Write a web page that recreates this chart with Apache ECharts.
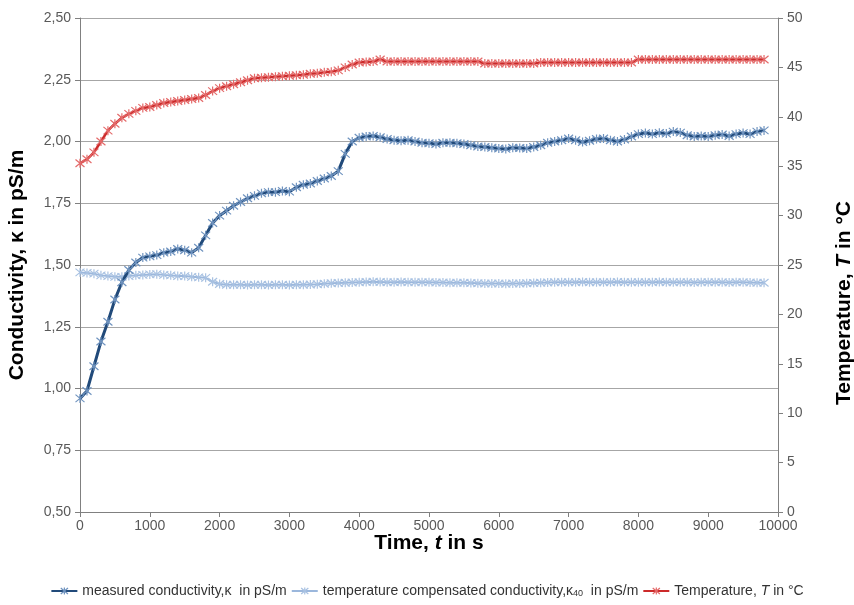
<!DOCTYPE html>
<html>
<head>
<meta charset="utf-8">
<script src="https://cdn.jsdelivr.net/npm/echarts@6/dist/echarts.min.js"></script>
<style>
  html, body { margin: 0; padding: 0; background: #fff; }
  #chart { width: 854px; height: 605px; }
</style>
</head>
<body>
<div id="chart"></div>
<script>
// Sampling times in seconds (every 100 s)
const times = [];
for (let i = 0; i <= 98; i++) times.push(i * 100);

// Measured conductivity, kappa in pS/m
const measuredKappa = [
  0.96, 0.99, 1.09, 1.19, 1.27, 1.36, 1.43, 1.48, 1.51, 1.53,
  1.535, 1.54, 1.55, 1.555, 1.565, 1.56, 1.55, 1.57, 1.62, 1.67,
  1.70, 1.72, 1.74, 1.755, 1.77, 1.78, 1.79, 1.795, 1.795, 1.80,
  1.797, 1.815, 1.825, 1.83, 1.84, 1.85, 1.86, 1.88, 1.95, 2.00,
  2.015, 2.02, 2.022, 2.017, 2.01, 2.005, 2.003, 2.005, 2.00, 1.995,
  1.993, 1.99, 1.995, 1.995, 1.993, 1.99, 1.985, 1.98, 1.978, 1.975,
  1.972, 1.97, 1.975, 1.974, 1.972, 1.978, 1.985, 1.995, 2.00, 2.005,
  2.012, 2.005, 1.998, 2.003, 2.01, 2.012, 2.005, 2.00, 2.008, 2.02,
  2.03, 2.034, 2.03, 2.035, 2.032, 2.04, 2.036, 2.025, 2.02, 2.022,
  2.02, 2.025, 2.028, 2.022, 2.03, 2.034, 2.03, 2.04, 2.045
];

// Temperature compensated conductivity, kappa40 in pS/m
const compensatedKappa = [
  1.47, 1.468, 1.465, 1.458, 1.455, 1.452, 1.452, 1.455, 1.458, 1.46,
  1.462, 1.463, 1.46, 1.458, 1.455, 1.455, 1.452, 1.45, 1.448, 1.432,
  1.423, 1.42, 1.42, 1.42, 1.419, 1.42, 1.42, 1.419, 1.42, 1.42,
  1.419, 1.42, 1.42, 1.421, 1.422, 1.424, 1.426, 1.427, 1.428, 1.429,
  1.43, 1.431, 1.432, 1.431, 1.43, 1.43, 1.431, 1.43, 1.43, 1.43,
  1.43, 1.429, 1.429, 1.428, 1.428, 1.428, 1.427, 1.426, 1.425, 1.425,
  1.425, 1.424, 1.425, 1.425, 1.426, 1.427, 1.428, 1.429, 1.43, 1.43,
  1.43, 1.43, 1.431, 1.43, 1.43, 1.43, 1.43, 1.431, 1.43, 1.43,
  1.43, 1.43, 1.43, 1.431, 1.43, 1.43, 1.43, 1.43, 1.429, 1.43,
  1.43, 1.43, 1.43, 1.429, 1.43, 1.43, 1.429, 1.428, 1.428
];

// Temperature, T in degrees C
const temperature = [
  35.3, 35.7, 36.4, 37.5, 38.6, 39.3, 39.9, 40.3, 40.6, 40.9,
  41.0, 41.2, 41.4, 41.5, 41.6, 41.7, 41.8, 41.9, 42.2, 42.6,
  42.9, 43.1, 43.3, 43.5, 43.7, 43.9, 43.95, 44.0, 44.05, 44.1,
  44.15, 44.2, 44.25, 44.35, 44.4, 44.5, 44.55, 44.7, 45.0, 45.3,
  45.5, 45.55, 45.6, 45.8, 45.6, 45.6, 45.6, 45.6, 45.6, 45.6,
  45.6, 45.6, 45.6, 45.6, 45.6, 45.6, 45.6, 45.6, 45.4, 45.4,
  45.4, 45.4, 45.4, 45.4, 45.4, 45.4, 45.5, 45.5, 45.5, 45.5,
  45.5, 45.5, 45.5, 45.5, 45.5, 45.5, 45.5, 45.5, 45.5, 45.5,
  45.8, 45.8, 45.8, 45.8, 45.8, 45.8, 45.8, 45.8, 45.8, 45.8,
  45.8, 45.8, 45.8, 45.8, 45.8, 45.8, 45.8, 45.8, 45.8
];

const pairs = (vals) => times.map((t, i) => [t, vals[i]]);

// Asterisk marker drawn as open strokes
const starSymbol = 'path://M0,0L10,10M10,0L0,10M5,-1L5,11';
const font = '"Liberation Sans", Arial, sans-serif';
const narrow = '"Liberation Sans Narrow", "Arial Narrow", "Liberation Sans", sans-serif';

// Series colours: line colour and lighter marker colour
const colMeasured = { line: '#214a7a', mark: '#6f93bf' };
const colCompensated = { line: '#9bb7dc', mark: '#a9c2e2' };
const colTemperature = { line: '#cc2a2a', mark: '#e46a6a' };

const markerStyle = (c) => ({ color: 'rgba(0,0,0,0)', borderColor: c.mark, borderWidth: 1.2 });

const chart = echarts.init(document.getElementById('chart'), null, { renderer: 'canvas' });

const legendNames = {
  'measured': '{t|measured conductivity,κ  in pS/m}',
  'compensated': '{t|temperature compensated conductivity,κ}{sub|40}{t|  in pS/m}',
  'temperature': '{t|Temperature, }{i|T}{t| in °C}'
};

const titleRich = {
  b: { fontFamily: font, fontSize: 21, fontWeight: 'bold', color: '#000' },
  bi: { fontFamily: font, fontSize: 21, fontWeight: 'bold', fontStyle: 'italic', color: '#000' }
};

chart.setOption({
  animation: false,
  backgroundColor: '#ffffff',
  grid: { left: 80, right: 76, top: 18, bottom: 93, containLabel: false, outerBoundsMode: 'none' },
  legend: {
    bottom: 2,
    left: 'center',
    itemWidth: 26,
    itemHeight: 9,
    itemGap: 4,
    data: [
      { name: 'measured', itemStyle: markerStyle(colMeasured) },
      { name: 'compensated', itemStyle: markerStyle(colCompensated) },
      { name: 'temperature', itemStyle: markerStyle(colTemperature) }
    ],
    formatter: (n) => legendNames[n],
    textStyle: {
      rich: {
        t: { fontFamily: narrow, fontSize: 14, color: '#333' },
        i: { fontFamily: narrow, fontSize: 14, color: '#333', fontStyle: 'italic' },
        sub: { fontFamily: narrow, fontSize: 9, color: '#333', verticalAlign: 'bottom', padding: [5, 0, 0, 0] }
      }
    }
  },
  xAxis: {
    type: 'value',
    min: 0, max: 10000, interval: 1000,
    name: '{b|Time, }{bi|t}{b| in s}',
    nameLocation: 'middle',
    nameGap: 31,
    nameMoveOverlap: false,
    nameTextStyle: { rich: titleRich, verticalAlign: 'middle' },
    axisLine: { lineStyle: { color: '#808080', width: 1 } },
    axisTick: { inside: false, length: 5, lineStyle: { color: '#808080' } },
    axisLabel: { fontFamily: font, fontSize: 14, color: '#595959', margin: 7, formatter: (v) => String(v) },
    splitLine: { show: false }
  },
  yAxis: [
    {
      type: 'value',
      min: 0.5, max: 2.5, interval: 0.25,
      position: 'left',
      name: 'Conductivity, κ in pS/m',
      nameLocation: 'middle',
      nameRotate: 90,
      nameGap: 52,
      nameMoveOverlap: false,
      nameTextStyle: { fontFamily: font, fontSize: 21, fontWeight: 'bold', color: '#000' },
      axisLine: { show: true, lineStyle: { color: '#808080', width: 1 } },
      axisTick: { show: true, inside: false, length: 5, lineStyle: { color: '#808080' } },
      axisLabel: {
        fontFamily: font, fontSize: 14, color: '#595959', margin: 9,
        formatter: (v) => v.toFixed(2).replace('.', ',')
      },
      splitLine: { show: true, lineStyle: { color: '#a6a6a6', width: 1 } }
    },
    {
      type: 'value',
      min: 0, max: 50, interval: 5,
      position: 'right',
      name: '{b|Temperature, }{bi|T}{b| in °C}',
      nameLocation: 'middle',
      nameRotate: 90,
      nameGap: 56,
      nameMoveOverlap: false,
      nameTextStyle: { rich: titleRich, padding: [0, 76, 0, 0] },
      axisLine: { show: true, lineStyle: { color: '#808080', width: 1 } },
      axisTick: { show: true, inside: false, length: 5, lineStyle: { color: '#808080' } },
      axisLabel: { fontFamily: font, fontSize: 14, color: '#595959', margin: 9 },
      splitLine: { show: false }
    }
  ],
  series: [
    {
      name: 'compensated',
      type: 'line',
      yAxisIndex: 0,
      data: pairs(compensatedKappa),
      symbol: starSymbol,
      symbolSize: 9,
      lineStyle: { color: colCompensated.line, width: 2 },
      itemStyle: markerStyle(colCompensated),
      z: 2
    },
    {
      name: 'measured',
      type: 'line',
      yAxisIndex: 0,
      data: pairs(measuredKappa),
      symbol: starSymbol,
      symbolSize: 9,
      lineStyle: { color: colMeasured.line, width: 3 },
      itemStyle: markerStyle(colMeasured),
      z: 3
    },
    {
      name: 'temperature',
      type: 'line',
      yAxisIndex: 1,
      data: pairs(temperature),
      symbol: starSymbol,
      symbolSize: 9,
      lineStyle: { color: colTemperature.line, width: 2.5 },
      itemStyle: markerStyle(colTemperature),
      z: 3
    }
  ]
});
</script>
</body>
</html>
